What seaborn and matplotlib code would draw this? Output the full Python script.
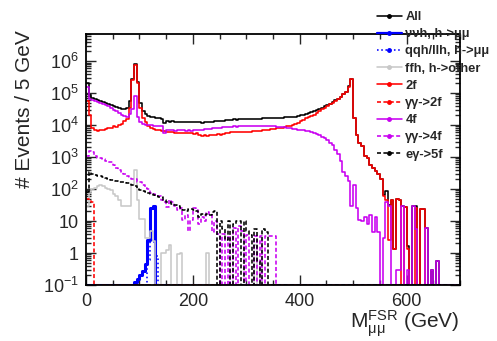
import numpy as np
import pandas as pd
import matplotlib
matplotlib.use('Agg')
import matplotlib.pyplot as plt
from matplotlib.lines import Line2D
from matplotlib.ticker import MultipleLocator, LogLocator, NullFormatter
import seaborn as sns

# 5 GeV bins, 0-700 GeV
edges = np.arange(0, 705, 5)
centers = edges[:-1] + 2.5
NB = len(centers)

# events per bin (rows of 50 GeV)
two_f = [
    5.5e4, 2.1e4, 8e3, 7e3, 6.5e3, 6.8e3, 7e3, 7.5e3, 8e3, 8.2e3,
    9e3, 8.5e3, 1e4, 1.1e4, 1.3e4, 1.5e4, 3.3e4, 2.5e5, 7.5e5, 2e5,
    3.5e4, 1.6e4, 1.2e4, 9e3, 8e3, 7.5e3, 7e3, 6.8e3, 6.5e3, 6.3e3,
    6e3, 5.9e3, 6e3, 5.8e3, 5.6e3, 5.8e3, 5.5e3, 5.6e3, 5.5e3, 5.5e3,
    5.3e3, 5.5e3, 5e3, 4.6e3, 4.8e3, 4.7e3, 5e3, 4.9e3, 5e3, 5.2e3,
    5e3, 5.4e3, 5.8e3, 5.7e3, 5.9e3, 6e3, 5.9e3, 6e3, 6.2e3, 6e3,
    6.1e3, 6.2e3, 6.4e3, 6.3e3, 6.5e3, 6.6e3, 6.8e3, 6.9e3, 7.2e3, 7.3e3,
    7.6e3, 7.8e3, 8e3, 8.3e3, 8.7e3, 9e3, 9.4e3, 1e4, 1.05e4, 1.15e4,
    1.3e4, 1.45e4, 1.6e4, 1.75e4, 1.9e4, 2.1e4, 2.4e4, 2.7e4, 3.1e4, 3.5e4,
    3.9e4, 4.4e4, 5e4, 5.7e4, 6.5e4, 7.5e4, 9e4, 1.1e5, 1.6e5, 2.7e5,
    1.65e4, 5e3, 2.7e3, 2.2e3, 1.1e3, 900, 560, 450, 360, 300,
    200, 60, 45, 2.6, 45, 1.3, 50, 45, 0, 28,
    1.3, 0, 0, 25, 0, 23, 23, 0, 0, 0,
]
four_f = [
    1.5e5, 6.5e4, 6e4, 5.6e4, 5.3e4, 5e4, 4.6e4, 4.2e4, 3.8e4, 3.4e4,
    3e4, 2.7e4, 2.4e4, 2.1e4, 1.9e4, 1.8e4, 2.2e4, 3.2e4, 8e4, 1.8e4,
    1.2e4, 1.05e4, 1e4, 1e4, 9.8e3, 9.6e3, 9.5e3, 9.2e3, 9e3, 5.5e3,
    7e3, 6.8e3, 6.9e3, 6.7e3, 6.8e3, 7e3, 6.9e3, 6.7e3, 6.8e3, 6.6e3,
    6.8e3, 7e3, 7.2e3, 7.1e3, 7.3e3, 7.6e3, 7.5e3, 7.8e3, 8e3, 8.2e3,
    8e3, 8.4e3, 8.6e3, 8.5e3, 8.8e3, 9e3, 8.9e3, 9.2e3, 9.3e3, 9.1e3,
    9.4e3, 9.2e3, 9.5e3, 9.3e3, 9.4e3, 9.2e3, 9.3e3, 9.1e3, 9.2e3, 9e3,
    9.1e3, 8.9e3, 8.8e3, 8.6e3, 8.5e3, 8.2e3, 8e3, 7.7e3, 7.4e3, 7.2e3,
    7e3, 6.8e3, 6.6e3, 6.3e3, 6e3, 5.6e3, 5.2e3, 4.8e3, 4.3e3, 3.8e3,
    3.3e3, 2.8e3, 2.3e3, 1.7e3, 1.2e3, 750, 350, 250, 180, 30,
    130, 25, 11, 10, 13, 8, 15, 4.4, 13, 4.4,
    0, 3, 40, 30, 0, 0, 0.3, 0.3, 30, 0,
    0.3, 0, 30, 5.5, 0, 0, 0, 6, 0, 0.3,
    0, 0.55,
]
gg_4f = [
    1.1e3, 1.5e3, 1.4e3, 1.1e3, 950, 900, 850, 750, 720, 700,
    550, 450, 380, 350, 300, 250, 240, 200, 210, 170,
    160, 130, 110, 100, 75, 70, 65, 60, 45, 40,
    28, 45, 40, 30, 22, 25, 11, 15, 5, 11,
    25, 22, 8, 13, 10, 19, 15, 4.5, 10, 3.8,
    0, 3.8, 0, 3.4, 0, 6, 0, 7, 5, 0,
    3.6, 0, 0, 3.4, 0, 3.4, 0, 3.4, 3.4, 3.4,
    3.4,
]
egam_5f = [
    80, 330, 300, 270, 260, 250, 240, 220, 200, 190,
    185, 180, 170, 165, 160, 155, 150, 130, 120, 100,
    90, 85, 80, 75, 70, 65, 60, 58, 55, 45,
    40, 38, 35, 32, 30, 25, 22, 20, 24, 24,
    22, 20, 13, 17, 15, 17, 15, 19, 21, 0,
    10, 5.5, 2.6, 10, 0, 8, 10, 10, 0, 10,
    4.8, 3.6, 0, 5.5, 0.55, 0, 5.5, 4.4,
]
ffh_other = [
    30, 80, 100, 110, 120, 130, 125, 110, 100, 90,
    70, 60, 45, 30, 30, 30, 30, 130, 400, 45,
    11.5, 11.5, 3, 3, 5, 2.4, 0, 0, 1, 1,
    1.2, 1.8, 0, 0, 0.9, 1, 0, 0, 0, 0,
    0, 0, 0, 0, 0, 1, 0, 0, 0, 0,
    0, 0, 0, 0, 0, 0, 0, 0, 0, 0,
    0, 0, 0, 1.8,
]
gg_2f = [50, 45, 40]
nunuh_mumu = [0] * 18 + [0.12, 0.15, 0.2, 0.27, 0.45, 2.5, 25, 30]
qqh_mumu = [0] * 23 + [0.6, 2.6, 2.2, 0.8]


def full(v):
    return np.pad(np.asarray(v, float), (0, NB - len(v)))


parts = [full(v) for v in (nunuh_mumu, qqh_mumu, ffh_other, two_f,
                           gg_2f, four_f, gg_4f, egam_5f)]
all_bkg = np.sum(parts, axis=0)

MAG = '#c800f0'
DASH = (0, (2.5, 1.5))
series = [
    ('All', all_bkg, 'black', '-', 1.15),
    ('ννh, h->μμ', parts[0], '#0000ff', '-', 2.2),
    ('qqh/llh, h->μμ', parts[1], '#0000ff', ':', 1.15),
    ('ffh, h->other', parts[2], '#c8c8c8', '-', 1.15),
    ('2f', parts[3], '#ff0000', '-', 1.15),
    ('γγ->2f', parts[4], '#ff0000', DASH, 1.15),
    ('4f', parts[5], MAG, '-', 1.15),
    ('γγ->4f', parts[6], MAG, DASH, 1.15),
    ('eγ->5f', parts[7], 'black', DASH, 1.15),
]

sns.set_style('ticks')
plt.rcParams['font.family'] = ['Liberation Sans', 'DejaVu Sans']
plt.rcParams['mathtext.fontset'] = 'custom'
plt.rcParams['mathtext.rm'] = 'Liberation Sans'
plt.rcParams['mathtext.it'] = 'Liberation Sans:italic'
plt.rcParams['mathtext.bf'] = 'Liberation Sans:bold'

YMIN, YMAX = 0.1, 7e6

fig = plt.figure(figsize=(4.97, 3.41), dpi=100)
ax = fig.add_axes([86 / 497, 56 / 341, 374 / 497, 251 / 341])
ax.set_yscale('log')

for label, vals, color, ls, lw in series:
    # zero bins sit on the bottom of the frame, as in ROOT
    df = pd.DataFrame({'m': centers, 'w': np.maximum(vals, YMIN)})
    sns.histplot(data=df, x='m', weights='w', bins=list(edges),
                 element='step', fill=False, color=color, linestyle=ls,
                 linewidth=lw, ax=ax)

ax.set_xlim(0, 700)
ax.set_ylim(YMIN, YMAX)
ax.set_xticks([0, 200, 400, 600])
ax.set_xticklabels(['0', '200', '400', '600'])
ax.xaxis.set_minor_locator(MultipleLocator(50))
yt = [1e-1, 1, 10, 1e2, 1e3, 1e4, 1e5, 1e6]
ax.set_yticks(yt)
ax.set_yticklabels([r'$10^{-1}$', '1', '10', r'$10^{2}$', r'$10^{3}$',
                    r'$10^{4}$', r'$10^{5}$', r'$10^{6}$'])
ax.yaxis.set_minor_locator(LogLocator(base=10, subs=np.arange(2, 10), numticks=20))
ax.yaxis.set_minor_formatter(NullFormatter())
ax.tick_params(which='both', direction='in', top=True, right=True,
               labelsize=13, width=1.0)
ax.tick_params(which='major', length=7)
ax.tick_params(which='minor', length=3.5)
ax.tick_params(axis='x', pad=6)
ax.tick_params(axis='y', pad=5)
for s in ax.spines.values():
    s.set_linewidth(1.3)
    s.set_color('black')

ax.set_ylabel('# Events / 5 GeV', fontsize=15, loc='top')
ax.yaxis.set_label_coords(-0.139, 1.016)
ax.set_xlabel(r'M$_{\mathrm{μμ}}^{\mathrm{FSR}}$ (GeV)', fontsize=15, loc='right')
ax.xaxis.set_label_coords(1.0, -0.095)
ax.xaxis.label.set_va('top')

handles = [Line2D([0], [0], color=c, linestyle=ls, linewidth=min(lw, 1.6),
                  marker='o', markersize=2.5) for _, _, c, ls, lw in series]
labels = [s[0] for s in series]
fig.legend(handles, labels, loc='upper left',
           bbox_to_anchor=(377 / 497, 1 - 11 / 341), frameon=False,
           prop={'size': 9.3, 'weight': 'bold'}, handlelength=1.9,
           handletextpad=0.3, labelspacing=0.4, borderpad=0,
           borderaxespad=0)

fig.savefig('out.png', dpi=100)
